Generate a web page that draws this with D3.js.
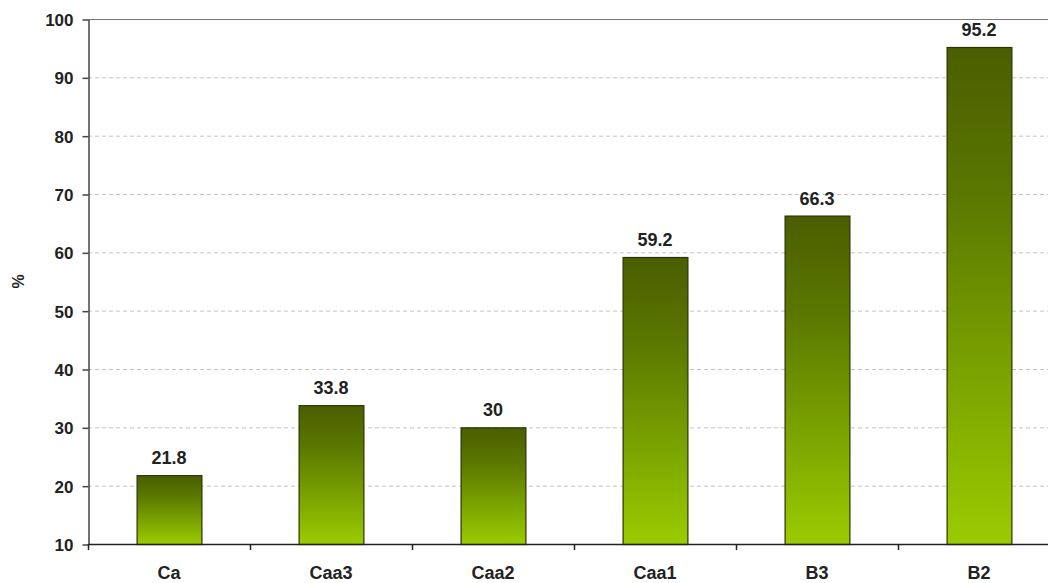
<!DOCTYPE html>
<html>
<head>
<meta charset="utf-8">
<script src="https://cdn.jsdelivr.net/npm/d3@7"></script>
<style>
  body { margin: 0; background: #fff; }
  svg text { font-family: "Liberation Sans", Arial, sans-serif; font-weight: bold; fill: #222; }
</style>
</head>
<body>
<div id="barChart"></div>
<script>
var categories = ["Ca", "Caa3", "Caa2", "Caa1", "B3", "B2"];
var values = [21.8, 33.8, 30, 59.2, 66.3, 95.2];
var valueLabels = ["21.8", "33.8", "30", "59.2", "66.3", "95.2"];
var yTicks = [10, 20, 30, 40, 50, 60, 70, 80, 90, 100];

var width = 1048, height = 583;
var padding = { top: 19, right: -12, bottom: 39, left: 88 };

var svg = d3.select("#barChart").append("svg")
  .attr("width", width)
  .attr("height", height);

var defs = svg.append("defs");
var grad = defs.append("linearGradient")
  .attr("id", "barGrad")
  .attr("x1", 0).attr("y1", 0).attr("x2", 0).attr("y2", 1);
grad.append("stop").attr("offset", "0%").attr("stop-color", "#4a5e00");
grad.append("stop").attr("offset", "30%").attr("stop-color", "#5a7800");
grad.append("stop").attr("offset", "100%").attr("stop-color", "#9acc00");

var xscale = d3.scaleBand()
  .domain(categories)
  .range([padding.left, width - padding.right])
  .paddingInner(0.6)
  .paddingOuter(0.3);

var yscale = d3.scaleLinear()
  .domain([10, 100])
  .range([height - padding.bottom, padding.top]);

// gridlines
svg.append("g")
  .selectAll("line")
  .data(yTicks.filter(function (d) { return d > 10 && d < 100; }))
  .enter().append("line")
  .attr("x1", padding.left).attr("x2", width)
  .attr("y1", function (d) { return yscale(d) + 0.5; })
  .attr("y2", function (d) { return yscale(d) + 0.5; })
  .attr("stroke", "#c4c4c4")
  .attr("stroke-dasharray", "4,3");

// top border
svg.append("line")
  .attr("x1", padding.left).attr("x2", width)
  .attr("y1", yscale(100) + 0.5).attr("y2", yscale(100) + 0.5)
  .attr("stroke", "#777");

// bars
svg.selectAll(".bar")
  .data(values)
  .enter().append("rect")
  .attr("class", "bar")
  .attr("x", function (d, i) { return xscale(categories[i]) + 0.5; })
  .attr("y", function (d) { return yscale(d) + 0.5; })
  .attr("width", xscale.bandwidth())
  .attr("height", function (d) { return yscale(10) - yscale(d); })
  .attr("fill", "url(#barGrad)")
  .attr("stroke", "#2a3300")
  .attr("stroke-width", 1.2);

// value labels
svg.selectAll(".val")
  .data(values)
  .enter().append("text")
  .attr("class", "val")
  .attr("x", function (d, i) { return xscale(categories[i]) + xscale.bandwidth() / 2; })
  .attr("y", function (d) { return yscale(d) - 11; })
  .attr("text-anchor", "middle")
  .style("font-size", "18px")
  .text(function (d, i) { return valueLabels[i]; });

// y axis
var yAxis = d3.axisLeft(yscale).tickValues(yTicks).tickSize(6).tickSizeOuter(0);
var yg = svg.append("g")
  .attr("transform", "translate(" + (padding.left + 0.5) + ",0.5)")
  .call(yAxis);
yg.select(".domain").attr("stroke", "#444").attr("stroke-width", 1.5);
yg.selectAll(".tick line").attr("stroke", "#444").attr("stroke-width", 1.5);
yg.selectAll(".tick text").style("font-size", "17px").attr("x", -15).attr("dy", "0.35em");

// x axis
var step = xscale.step();
var xStart = padding.left;
var boundaries = d3.range(categories.length + 1).map(function (i) { return xStart + i * step; });
svg.append("line")
  .attr("x1", padding.left).attr("x2", width)
  .attr("y1", yscale(10) + 0.5).attr("y2", yscale(10) + 0.5)
  .attr("stroke", "#222").attr("stroke-width", 1.5);
svg.append("g").selectAll("line")
  .data(boundaries)
  .enter().append("line")
  .attr("x1", function (d) { return d + 0.5; })
  .attr("x2", function (d) { return d + 0.5; })
  .attr("y1", yscale(10)).attr("y2", yscale(10) + 6)
  .attr("stroke", "#222").attr("stroke-width", 1.5);

svg.selectAll(".xlab")
  .data(categories)
  .enter().append("text")
  .attr("class", "xlab")
  .attr("x", function (d) { return xscale(d) + xscale.bandwidth() / 2; })
  .attr("y", yscale(10) + 35)
  .attr("text-anchor", "middle")
  .style("font-size", "18px")
  .text(function (d) { return d; });

// y axis title
svg.append("text")
  .attr("transform", "translate(24," + ((yscale(10) + yscale(100)) / 2) + ") rotate(-90)")
  .attr("text-anchor", "middle")
  .style("font-size", "16px")
  .text("%");
</script>
</body>
</html>
